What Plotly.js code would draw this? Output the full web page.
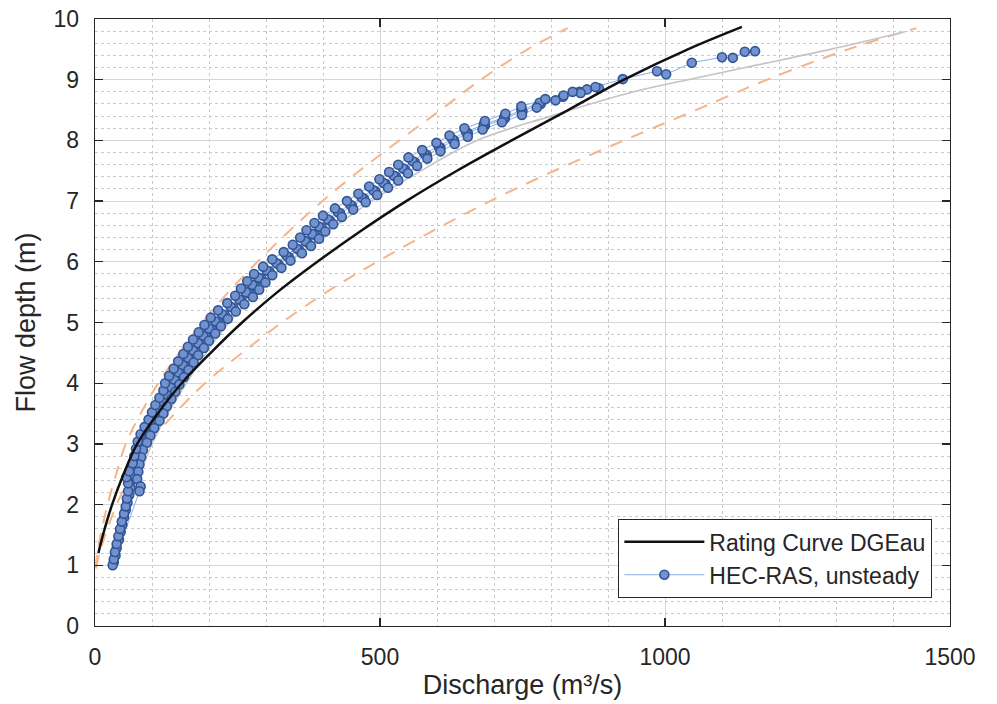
<!DOCTYPE html>
<html>
<head>
<meta charset="utf-8">
<script src="https://cdn.plot.ly/plotly-3.0.1.min.js"></script>
<style>body{margin:0;background:#fff;}#chart{width:997px;height:704px;}</style>
</head>
<body>
<div id="chart"></div>
<script>
// Rating curve DGEau (black)
const ratingH = [1.20, 1.50, 2.00, 2.50, 3.00, 3.50, 4.00, 4.50, 5.00, 5.50, 6.00, 6.50, 7.00, 7.50, 8.00, 8.50, 9.00, 9.50, 9.87];
const ratingQ = [6, 14, 30, 50, 74, 110, 152, 203, 258, 320, 390, 465, 546, 635, 731, 830, 928, 1040, 1135];

// Upper / lower band (orange dashed)
const bandH = [0.95, 1.20, 1.50, 2.00, 2.50, 3.00, 3.50, 4.00, 4.50, 5.00, 5.50, 6.00, 6.50, 7.00, 7.50, 8.00, 8.50, 9.00, 9.50, 9.85];
const bandUpperQ = [1, 4, 10, 22, 37, 54, 80, 111, 148, 188, 234, 285, 340, 399, 464, 534, 606, 677, 759, 829];
const bandLowerQ = [2, 8, 18, 38, 64, 94, 140, 193, 258, 328, 406, 495, 591, 693, 806, 928, 1054, 1179, 1321, 1441];

// Fitted curve (light gray)
const fitH = [1.0, 2.0, 3.0, 4.0, 5.0, 6.0, 7.0, 7.5, 8.0, 8.4, 8.8, 9.0, 9.24, 9.5, 9.79];
const fitQ = [30, 62, 100, 160, 235, 340, 485, 572, 670, 800, 945, 1040, 1160, 1290, 1421];

// HEC-RAS, unsteady (blue markers): inner falling, middle rising, right falling, left rising, then peak points
const hecH = [
  8.80, 8.72, 8.60, 8.48, 8.36, 8.24, 8.12, 8.00, 7.88, 7.76, 7.64, 7.52, 7.40, 7.28, 7.16, 7.04,
  6.92, 6.80, 6.68, 6.56, 6.44, 6.32, 6.20, 6.08, 5.96, 5.84, 5.72, 5.60, 5.48, 5.36, 5.24, 5.12,
  5.00, 4.88, 4.76, 4.64, 4.52, 4.40, 4.28, 4.16, 4.04, 3.92, 3.80, 3.68, 3.56, 3.44, 3.32, 3.20,
  1.05, 1.16, 1.28, 1.42, 1.55, 1.67, 1.79, 1.91, 2.03, 2.16, 2.28, 2.40, 2.50, 2.61, 2.74, 2.86,
  2.98, 3.10, 3.22, 3.34, 3.46, 3.58, 3.70, 3.82, 3.94, 4.06, 4.18, 4.30, 4.42, 4.54, 4.66, 4.78,
  4.90, 5.02, 5.14, 5.26, 5.38, 5.50, 5.62, 5.74, 5.86, 5.98, 6.10, 6.22, 6.34, 6.46, 6.58, 6.70,
  6.82, 6.94, 7.06, 7.18, 7.30, 7.42, 7.54, 7.66, 7.78, 7.90, 8.02, 8.14, 8.26, 8.38, 8.50, 8.62,
  8.74, 8.84,
  8.86, 8.78, 8.66, 8.54, 8.42, 8.30, 8.18, 8.06, 7.94, 7.82, 7.70, 7.58, 7.46, 7.34, 7.22, 7.10,
  6.98, 6.86, 6.74, 6.62, 6.50, 6.38, 6.26, 6.14, 6.02, 5.90, 5.78, 5.66, 5.54, 5.42, 5.30, 5.18,
  5.06, 4.94, 4.82, 4.70, 4.58, 4.46, 4.34, 4.22, 4.10, 3.98, 3.86, 3.74, 3.62, 3.50, 3.38, 3.26,
  3.14, 3.02, 2.90, 2.78, 2.66, 2.54, 2.42, 2.30, 2.22,
  1.00, 1.10, 1.22, 1.35, 1.48, 1.60, 1.72, 1.85, 1.97, 2.10, 2.22, 2.35, 2.45, 2.55, 2.68, 2.80,
  2.92, 3.04, 3.16, 3.28, 3.40, 3.52, 3.64, 3.76, 3.88, 4.00, 4.12, 4.24, 4.36, 4.48, 4.60, 4.72,
  4.84, 4.96, 5.08, 5.20, 5.32, 5.44, 5.56, 5.68, 5.80, 5.92, 6.04, 6.16, 6.28, 6.40, 6.52, 6.64,
  6.76, 6.88, 7.00, 7.12, 7.24, 7.36, 7.48, 7.60, 7.72, 7.84, 7.96, 8.08, 8.20, 8.32, 8.44, 8.56,
  8.68, 8.80, 8.88,
  9.01, 9.14, 9.09, 9.28, 9.37, 9.36, 9.46, 9.47
];
const hecQ = [
  850, 821, 782, 750, 719, 684, 654, 630, 606, 582, 561, 544, 528, 510, 492, 472,
  451, 430, 412, 398, 386, 373, 358, 340, 322, 306, 292, 281, 270, 257, 243, 228,
  216, 205, 195, 186, 177, 168, 159, 151, 143, 136, 129, 121, 114, 108, 101, 94,
  33, 36, 38, 42, 45, 48, 51, 54, 57, 60, 62, 63, 64, 69, 74, 78,
  81, 85, 92, 99, 105, 111, 118, 125, 132, 139, 146, 154, 163, 172, 181, 190,
  200, 211, 223, 238, 253, 265, 276, 287, 301, 318, 336, 354, 369, 381, 393, 408,
  426, 448, 468, 488, 506, 524, 540, 557, 578, 603, 627, 651, 682, 718, 748, 780,
  822, 863,
  884, 852, 808, 775, 749, 714, 680, 654, 631, 606, 583, 565, 549, 532, 514, 495,
  475, 453, 433, 418, 404, 393, 379, 363, 343, 327, 311, 299, 288, 277, 262, 247,
  233, 221, 211, 200, 191, 181, 173, 164, 156, 148, 141, 134, 126, 120, 113, 104,
  97, 91, 84, 81, 78, 76, 74, 80, 78,
  31, 33, 35, 38, 41, 44, 47, 51, 54, 56, 58, 58, 55, 60, 66, 69,
  72, 75, 80, 87, 94, 100, 106, 113, 120, 123, 130, 138, 146, 155, 163, 172,
  182, 192, 203, 216, 232, 246, 256, 267, 279, 295, 311, 331, 347, 360, 371, 385,
  400, 421, 442, 462, 481, 499, 516, 532, 550, 574, 599, 622, 648, 684, 720, 748,
  790, 838, 878,
  926, 986, 1002, 1047, 1100, 1119, 1140, 1158
];

const xTicks = [0, 500, 1000, 1500];
const yTicks = [0, 1, 2, 3, 4, 5, 6, 7, 8, 9, 10];

const FONT = 'Liberation Sans, Arial, Helvetica, sans-serif';
const TXT = '#262626';

const traces = [
  {x: bandUpperQ, y: bandH, mode: 'lines', line: {color: '#f6b48c', width: 2, dash: '13px,10px', shape: 'spline'}, showlegend: false, hoverinfo: 'skip'},
  {x: bandLowerQ, y: bandH, mode: 'lines', line: {color: '#f6b48c', width: 2, dash: '13px,10px', shape: 'spline'}, showlegend: false, hoverinfo: 'skip'},
  {x: fitQ, y: fitH, mode: 'lines', line: {color: '#c4c4c4', width: 1.6, shape: 'spline'}, showlegend: false, hoverinfo: 'skip'},
  {x: hecQ, y: hecH, mode: 'lines+markers', name: 'HEC-RAS, unsteady', legendrank: 2,
   line: {color: '#8eaee6', width: 1},
   marker: {symbol: 'circle', size: 9, color: '#7391cc', line: {color: '#2f5597', width: 1.6}}},
  {x: ratingQ, y: ratingH, mode: 'lines', name: 'Rating Curve DGEau', legendrank: 1,
   line: {color: '#111111', width: 2.5, shape: 'spline'}}
];

const axisCommon = {
  showgrid: true, gridcolor: '#d6d6d6', gridwidth: 1, zeroline: false,
  showline: true, linecolor: TXT, linewidth: 1.3, mirror: 'ticks',
  ticks: 'inside', ticklen: 8, tickwidth: 1.3, tickcolor: TXT,
  tickfont: {family: FONT, size: 23, color: TXT},
  ticklabelstandoff: 10
};

const layout = {
  width: 997, height: 704,
  margin: {l: 95, r: 47, t: 19, b: 78},
  paper_bgcolor: '#ffffff', plot_bgcolor: '#ffffff',
  font: {family: FONT, color: TXT},
  xaxis: Object.assign({}, axisCommon, {
    range: [0, 1500], tickvals: xTicks, ticktext: xTicks.map(String),
    minor: {dtick: 100, tick0: 0, showgrid: true, gridcolor: '#c9c9c9', gridwidth: 1, griddash: '3px,3px', ticks: ''},
    title: {text: 'Discharge (m³/s)', font: {family: FONT, size: 27, color: TXT}, standoff: 6}
  }),
  yaxis: Object.assign({}, axisCommon, {
    range: [0, 10], tickvals: yTicks, ticktext: yTicks.map(String),
    minor: {dtick: 0.2, tick0: 0, showgrid: true, gridcolor: '#c9c9c9', gridwidth: 1, griddash: '3px,3px', ticks: ''},
    title: {text: 'Flow depth (m)', font: {family: FONT, size: 27, color: TXT}, standoff: 10}
  }),
  legend: {
    x: 0.979, xanchor: 'right', y: 0.046, yanchor: 'bottom',
    bgcolor: '#ffffff', bordercolor: TXT, borderwidth: 1.3,
    font: {family: FONT, size: 23, color: TXT},
    itemwidth: 80, tracegroupgap: 0
  },
  showlegend: true
};

Plotly.newPlot('chart', traces, layout, {displayModeBar: false, staticPlot: true});
</script>
</body>
</html>
